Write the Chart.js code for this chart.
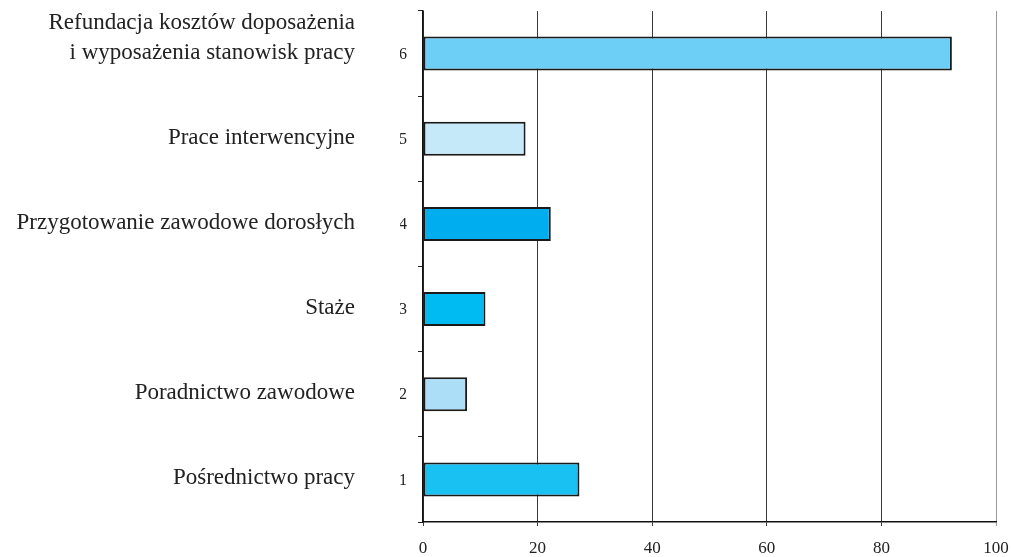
<!DOCTYPE html>
<html lang="pl">
<head>
<meta charset="utf-8">
<title>Formy aktywizacji</title>
<script src="https://cdn.jsdelivr.net/npm/chart.js@4.4.1/dist/chart.umd.min.js"></script>
<style>
  html, body { margin: 0; padding: 0; background: #ffffff; }
  #wrap { width: 1011px; height: 557px; position: relative; }
</style>
</head>
<body>
<div id="wrap"><canvas id="chart"></canvas></div>
<script>
// Row numbers, listed top to bottom
const rowNumbers = ['6', '5', '4', '3', '2', '1'];
// Category names shown left of the numbers (same order)
const categoryNames = [
  ['Refundacja kosztów doposażenia', 'i wyposażenia stanowisk pracy', ''],
  'Prace interwencyjne',
  'Przygotowanie zawodowe dorosłych',
  'Staże',
  'Poradnictwo zawodowe',
  'Pośrednictwo pracy'
];
// Bar values
const values = [92.3, 17.9, 22.3, 10.9, 7.7, 27.3];
// Bar fill colours
const barColors = ['#6dcff6', '#c6e9f9', '#00aeef', '#00bbf2', '#acdef8', '#19c1f3'];
// Value axis range
const xMin = 0, xMax = 100, xStep = 20;

const serif = "'Liberation Serif', 'DejaVu Serif', serif";

// keep label overhang from shrinking the plot area
const noEdgePadding = (scale) => {
  scale.paddingTop = 0; scale.paddingBottom = 0;
  scale.paddingLeft = 0; scale.paddingRight = 0;
};

new Chart(document.getElementById('chart'), {
  type: 'bar',
  data: {
    labels: rowNumbers,
    datasets: [{
      data: values,
      backgroundColor: barColors,
      borderColor: '#1a1a1a',
      borderWidth: 2,
      borderSkipped: false,
      barPercentage: 0.4,
      categoryPercentage: 1.0,
      yAxisID: 'y'
    }]
  },
  options: {
    indexAxis: 'y',
    responsive: true,
    maintainAspectRatio: false,
    animation: false,
    layout: { padding: { top: 11, right: 15, left: 0, bottom: 0 } },
    plugins: { legend: { display: false }, tooltip: { enabled: false } },
    scales: {
      x: {
        type: 'linear',
        position: 'bottom',
        min: xMin,
        max: xMax,
        ticks: {
          stepSize: xStep,
          color: '#222',
          padding: 12,
          maxRotation: 0,
          font: { family: serif, size: 17 }
        },
        grid: {
          color: (ctx) => (ctx.tick && ctx.tick.value === xMax ? '#9a9a9a' : '#3a3a3a'),
          lineWidth: 1,
          drawTicks: true,
          tickLength: 4
        },
        border: { display: true, color: '#111', width: 1.5 },
        afterFit: (scale) => { scale.height = 35; noEdgePadding(scale); }
      },
      y: {
        type: 'category',
        position: 'left',
        weight: 0,
        offset: true,
        ticks: {
          autoSkip: false,
          color: '#222',
          padding: 11,
          labelOffset: 1,
          font: { family: serif, size: 16 }
        },
        grid: {
          drawOnChartArea: false,
          drawTicks: true,
          tickLength: 5,
          offset: true,
          color: '#222'
        },
        border: { display: true, color: '#111', width: 1.5 },
        afterFit: (scale) => { scale.width = 23; noEdgePadding(scale); }
      },
      yNames: {
        type: 'category',
        position: 'left',
        weight: 1,
        offset: true,
        labels: categoryNames,
        ticks: {
          autoSkip: false,
          color: '#222',
          padding: 0,
          labelOffset: -1,
          font: (ctx) => ({ family: serif, size: 23, lineHeight: ctx.index === 0 ? 1.28 : 1.2 })
        },
        grid: { display: false, drawTicks: true, tickLength: 45 },
        border: { display: false },
        afterFit: (scale) => { scale.width = 400; noEdgePadding(scale); }
      }
    }
  }
});
</script>
</body>
</html>
